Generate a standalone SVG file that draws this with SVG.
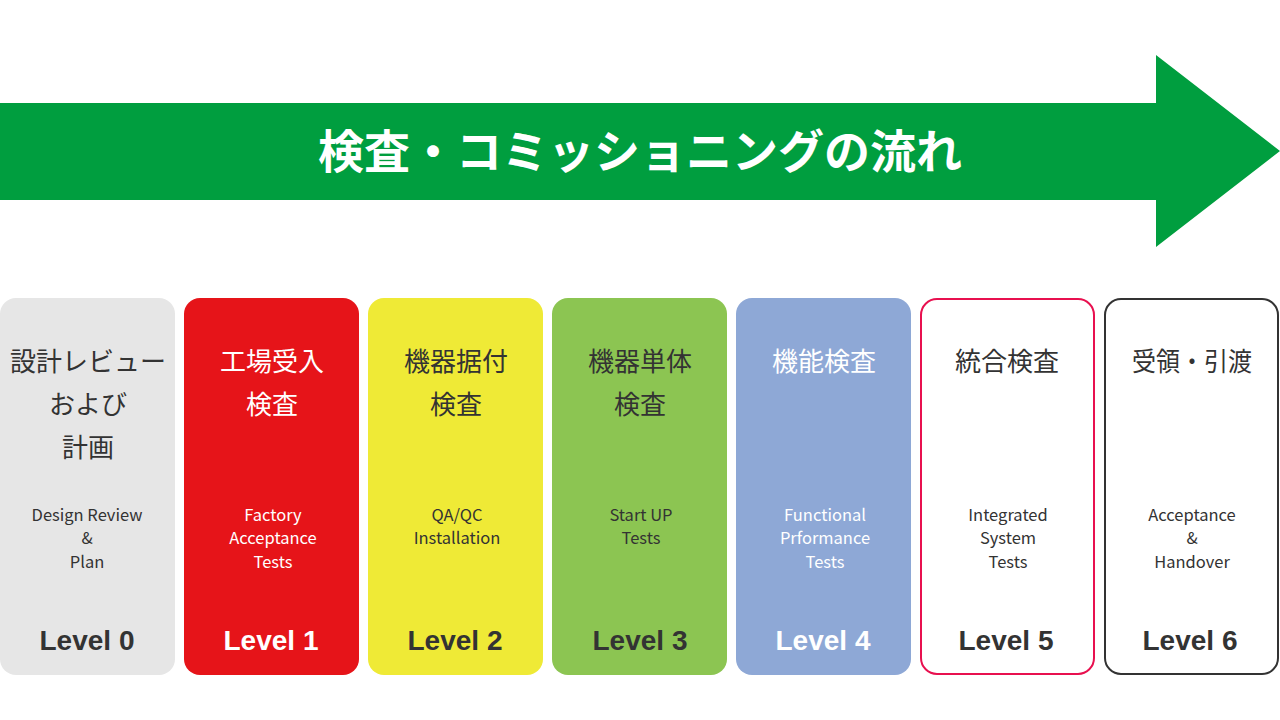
<svg xmlns="http://www.w3.org/2000/svg" width="1280" height="720" viewBox="0 0 1280 720">
<style>
.jp{font-family:"Noto Sans CJK JP","Noto Sans",sans-serif;font-size:26px;text-anchor:middle;fill:#333}
.en{font-family:"Noto Sans CJK JP","Noto Sans",sans-serif;font-size:16.5px;text-anchor:middle;fill:#333}
.lv{font-family:"Liberation Sans",Arial,sans-serif;font-size:28px;font-weight:bold;text-anchor:middle;fill:#333}
.w{fill:#fff}
</style>
<rect width="1280" height="720" fill="#fff"/>
<g id="arrow">
<polygon points="0,103 1156,103 1156,55 1280,151 1156,247 1156,200 0,200" fill="#009E3F"/>
<text x="640" y="168" textLength="644" lengthAdjust="spacingAndGlyphs" style="font-family:'Noto Sans CJK JP',sans-serif;font-size:46px;font-weight:bold;fill:#fff;text-anchor:middle">検査・コミッショニングの流れ</text>
</g>
<g id="level0">
<rect x="0" y="298" width="175" height="377" rx="16" fill="#E6E6E6"/>
<text class="jp" x="88" y="371">設計レビュー</text>
<text class="jp" x="88" y="414">および</text>
<text class="jp" x="88" y="457">計画</text>
<text class="en" x="87" y="521">Design Review</text>
<text class="en" x="87" y="544">&amp;</text>
<text class="en" x="87" y="568">Plan</text>
<text class="lv" x="87" y="650">Level 0</text>
</g>
<g id="level1">
<rect x="184" y="298" width="175" height="377" rx="16" fill="#E61419"/>
<text class="jp w" x="272" y="371">工場受入</text>
<text class="jp w" x="272" y="414">検査</text>
<text class="en w" x="273" y="521">Factory</text>
<text class="en w" x="273" y="544">Acceptance</text>
<text class="en w" x="273" y="568">Tests</text>
<text class="lv w" x="271" y="650">Level 1</text>
</g>
<g id="level2">
<rect x="368" y="298" width="175" height="377" rx="16" fill="#EFEA36"/>
<text class="jp" x="456" y="371">機器据付</text>
<text class="jp" x="456" y="414">検査</text>
<text class="en" x="457" y="521">QA/QC</text>
<text class="en" x="457" y="544">Installation</text>
<text class="lv" x="455" y="650">Level 2</text>
</g>
<g id="level3">
<rect x="552" y="298" width="175" height="377" rx="16" fill="#8CC552"/>
<text class="jp" x="640" y="371">機器単体</text>
<text class="jp" x="640" y="414">検査</text>
<text class="en" x="641" y="521">Start UP</text>
<text class="en" x="641" y="544">Tests</text>
<text class="lv" x="640" y="650">Level 3</text>
</g>
<g id="level4">
<rect x="736" y="298" width="175" height="377" rx="16" fill="#8EA8D6"/>
<text class="jp w" x="824" y="371">機能検査</text>
<text class="en w" x="825" y="521">Functional</text>
<text class="en w" x="825" y="544">Prformance</text>
<text class="en w" x="825" y="568">Tests</text>
<text class="lv w" x="823" y="650">Level 4</text>
</g>
<g id="level5">
<rect x="921" y="299" width="173" height="375" rx="16" fill="#fff" stroke="#E8104F" stroke-width="2"/>
<text class="jp" x="1007" y="371">統合検査</text>
<text class="en" x="1008" y="521">Integrated</text>
<text class="en" x="1008" y="544">System</text>
<text class="en" x="1008" y="568">Tests</text>
<text class="lv" x="1006" y="650">Level 5</text>
</g>
<g id="level6">
<rect x="1105" y="299" width="173" height="375" rx="16" fill="#fff" stroke="#333" stroke-width="2"/>
<text class="jp" x="1192" y="371" textLength="120" lengthAdjust="spacingAndGlyphs">受領・引渡</text>
<text class="en" x="1192" y="521">Acceptance</text>
<text class="en" x="1192" y="544">&amp;</text>
<text class="en" x="1192" y="568">Handover</text>
<text class="lv" x="1190" y="650">Level 6</text>
</g>
<g id="connectors"></g>
</svg>
